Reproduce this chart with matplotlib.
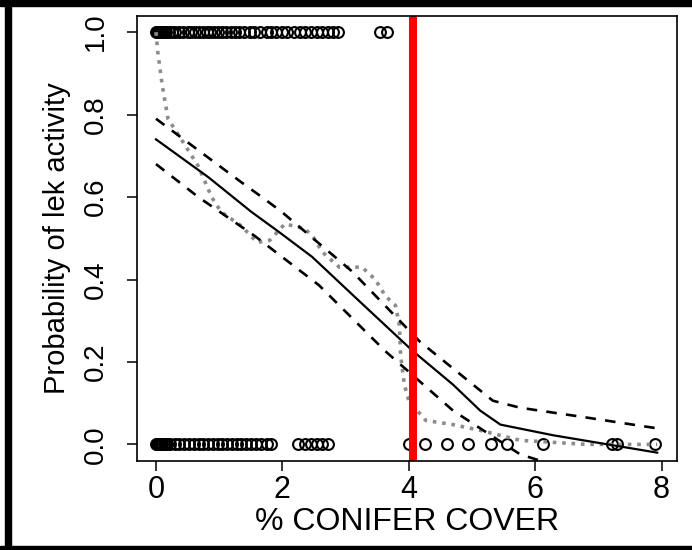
import matplotlib
matplotlib.use('Agg')
from matplotlib import pyplot as plt
from matplotlib.patches import Rectangle

plt.rcParams['font.family'] = ['Liberation Sans', 'DejaVu Sans']

# observed leks, active (y=1) and inactive (y=0)
active_x = [0, 0.01, 0.02, 0.04, 0.05, 0.07, 0.09, 0.1, 0.12, 0.14, 0.16, 0.2, 0.25,
            0.3, 0.36, 0.42, 0.5, 0.55, 0.62, 0.68, 0.74, 0.8, 0.86, 0.92, 0.98,
            1.04, 1.1, 1.18, 1.25, 1.32, 1.4, 1.48, 1.55, 1.65, 1.75, 1.82, 1.9,
            2.0, 2.08, 2.18, 2.28, 2.36, 2.45, 2.55, 2.62, 2.72, 2.8, 2.88,
            3.55, 3.65]
inactive_x = [0, 0.01, 0.02, 0.04, 0.05, 0.06, 0.08, 0.1, 0.12, 0.14, 0.16, 0.17,
              0.22, 0.3, 0.36, 0.45, 0.52, 0.6, 0.68, 0.75, 0.82, 0.9, 0.98, 1.05,
              1.12, 1.2, 1.28, 1.35, 1.42, 1.5, 1.58, 1.66, 1.75, 1.82,
              2.25, 2.35, 2.45, 2.55, 2.62, 2.72,
              4.01, 4.25, 4.61, 4.93, 5.3, 5.56, 6.12, 7.22, 7.3, 7.89]

# fitted probability and confidence band
fit_x = [0, 0.83, 1.51, 1.94, 2.47, 3.2, 4.06, 4.7, 5.13, 5.45, 6.29, 7.93]
fit_y = [0.74, 0.648, 0.564, 0.516, 0.455, 0.35, 0.227, 0.145, 0.082, 0.048, 0.022, -0.02]
upper_x = [0, 1.35, 1.72, 1.99, 3.1, 4.17, 5.33, 5.76, 6.82, 7.93]
upper_y = [0.79, 0.636, 0.595, 0.564, 0.42, 0.25, 0.106, 0.089, 0.065, 0.039]
lower_x = [0, 0.67, 1.56, 2.58, 3.63, 4.7, 5.76, 6.5, 7.93]
lower_y = [0.68, 0.60, 0.506, 0.386, 0.226, 0.082, -0.024, -0.06, -0.1]

# smoothed observed proportion
smooth_x = [0, 0.03, 0.1, 0.16, 0.19, 0.4, 0.67, 0.88, 1.03, 1.35, 1.6, 1.8, 2.04,
            2.36, 2.5, 2.63, 2.9, 3.26, 3.47, 3.63, 3.79, 3.85, 3.87, 3.93, 4.0,
            4.27, 4.7, 5.13, 5.76, 6.82, 7.93]
smooth_y = [1.0, 0.95, 0.87, 0.817, 0.79, 0.74, 0.675, 0.60, 0.564, 0.53, 0.49,
            0.495, 0.535, 0.523, 0.5, 0.467, 0.43, 0.43, 0.40, 0.36, 0.337, 0.29,
            0.217, 0.145, 0.106, 0.058, 0.048, 0.034, 0.01, 0.0, 0.0]

threshold = 4.06

fig = plt.figure(figsize=(6.92, 5.5), dpi=100)
ax = fig.add_axes([0.198, 0.162, 0.780, 0.8095])

ax.plot(active_x, [1] * len(active_x), 'o', mfc='none', mec='black', ms=7.8, mew=1.5)
ax.plot(inactive_x, [0] * len(inactive_x), 'o', mfc='none', mec='black', ms=7.8, mew=1.5)

ax.plot(smooth_x, smooth_y, color='#8c8c8c', lw=2.6, linestyle=(0, (1, 1.6)))
ax.plot(upper_x, upper_y, color='black', lw=1.9, dashes=(4, 3.5))
ax.plot(lower_x, lower_y, color='black', lw=1.9, dashes=(4, 3.5))
ax.plot(fit_x, fit_y, color='black', lw=1.6)

ax.axvline(threshold, color='red', lw=5.8)

ax.set_xlim(-0.30, 8.24)
ax.set_ylim(-0.04, 1.04)
ax.set_xticks([0, 2, 4, 6, 8])
ax.set_yticks([0, 0.2, 0.4, 0.6, 0.8, 1.0])
ax.set_yticklabels(['0.0', '0.2', '0.4', '0.6', '0.8', '1.0'])

for s in ax.spines.values():
    s.set_linewidth(1.2)
ax.tick_params(axis='both', direction='out', length=7, width=1.1)
ax.tick_params(axis='x', labelsize=22, pad=3)
ax.tick_params(axis='y', labelsize=20, pad=13, labelrotation=90)
for lbl in ax.get_yticklabels():
    lbl.set_va('center')

ax.set_xlabel('% CONIFER COVER', fontsize=23, va='center')
ax.xaxis.set_label_coords(0.5, -0.137)
ax.set_ylabel('Probability of lek activity', fontsize=21, va='center')
ax.yaxis.set_label_coords(-0.148, 0.5)

# black frame round the picture
fig.patches.append(Rectangle((0, 544 / 550), 1, 6 / 550, transform=fig.transFigure,
                             color='black', zorder=10))
fig.patches.append(Rectangle((5 / 692, 0), 6 / 692, 1, transform=fig.transFigure,
                             color='black', zorder=10))
fig.patches.append(Rectangle((0, 0), 1, 4 / 550, transform=fig.transFigure,
                             color='black', zorder=10))

fig.savefig('out.png', dpi=100)
